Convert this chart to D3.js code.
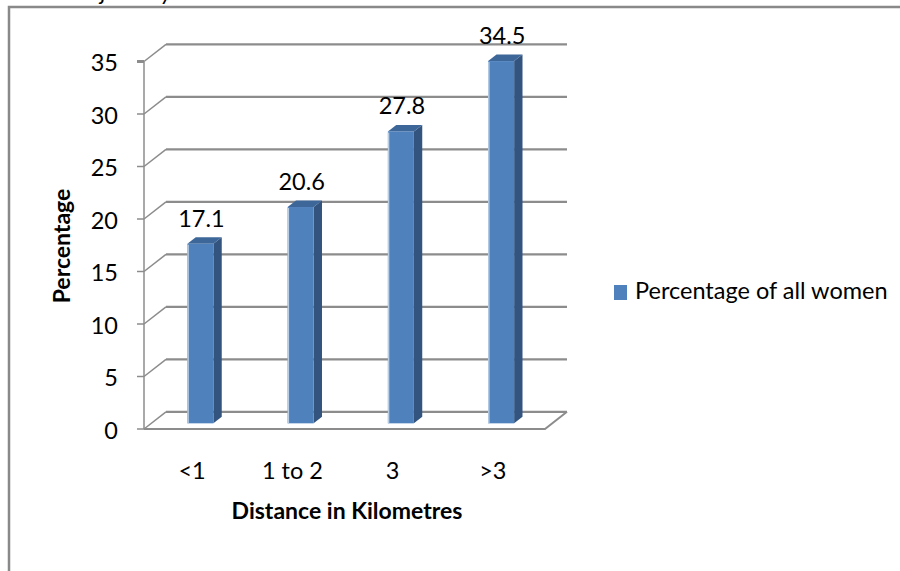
<!DOCTYPE html>
<html>
<head>
<meta charset="utf-8">
<script src="https://cdnjs.cloudflare.com/ajax/libs/d3/7.8.5/d3.min.js"></script>
<style>
  html, body { margin: 0; padding: 0; background: #fff; }
  text { font-family: Lato, "Open Sans", sans-serif; fill: #000; }
</style>
</head>
<body>
<div id="chart"></div>
<script>
const categories = ['<1', '1 to 2', '3', '>3'];
const values = [17.1, 20.6, 27.8, 34.5];
const yTicks = [0, 5, 10, 15, 20, 25, 30, 35];
const seriesName = 'Percentage of all women';
const xTitle = 'Distance in Kilometres';
const yTitle = 'Percentage';

const width = 900;
const height = 571;
// depth of the 3d box (back wall offset)
const depthX = 22;
const depthY = -17.2;
// bar sits between these depth fractions
const barFront = 0.33;
const barBack = 0.71;
const barW = 26;

const colors = {
    grid: '#8c8c8c',
    front: '#4F81BD',
    side: '#32547F',
    top: '#3E6799',
    edge: '#B9CDE5',
    frame: '#898989'
};

const svg = d3.select('#chart').append('svg')
    .attr('width', width)
    .attr('height', height);

// bit of the caption above, cut off by the crop
svg.append('text')
    .attr('x', 172)
    .attr('y', 0)
    .attr('text-anchor', 'end')
    .style('font-style', 'italic')
    .style('font-size', '23px')
    .text('each journey');

// frame
svg.append('path')
    .attr('d', 'M9,' + height + ' L9,7 L' + width + ',7')
    .attr('fill', 'none')
    .attr('stroke', colors.frame)
    .attr('stroke-width', 2.5);

const x = d3.scaleBand()
    .domain(categories)
    .range([144, 545]);

const y = d3.scaleLinear()
    .domain([0, 35])
    .range([429, 61.5]);

const x0 = x.range()[0];
const x1 = x.range()[1];

// gridlines: side wall diagonal + back wall line
const grid = svg.append('g');
yTicks.forEach(function (v) {
    grid.append('line')
        .attr('x1', x0).attr('y1', y(v))
        .attr('x2', x0 + depthX).attr('y2', y(v) + depthY)
        .attr('stroke', colors.grid).attr('stroke-width', 1.5);
    grid.append('line')
        .attr('x1', x0 + depthX).attr('y1', y(v) + depthY)
        .attr('x2', x1 + depthX).attr('y2', y(v) + depthY)
        .attr('stroke', colors.grid).attr('stroke-width', 2.2);
    // tick mark
    grid.append('line')
        .attr('x1', x0 - 7).attr('y1', y(v))
        .attr('x2', x0).attr('y2', y(v))
        .attr('stroke', colors.grid).attr('stroke-width', v === 35 ? 3 : 1.5);
});

// floor front edge + right edge
grid.append('path')
    .attr('d', 'M' + x0 + ',' + y(0) + ' L' + x1 + ',' + y(0) +
        ' L' + (x1 + depthX) + ',' + (y(0) + depthY))
    .attr('fill', 'none')
    .attr('stroke', colors.grid)
    .attr('stroke-width', 2);

// value axis line
grid.append('line')
    .attr('x1', x0).attr('y1', y(35))
    .attr('x2', x0).attr('y2', y(0))
    .attr('stroke', colors.grid).attr('stroke-width', 1.5);

// tick labels
svg.append('g').selectAll('text')
    .data(yTicks)
    .enter()
    .append('text')
    .attr('x', 118)
    .attr('y', function (d) { return y(d) + 9.5; })
    .attr('text-anchor', 'end')
    .style('font-size', '23.5px')
    .text(function (d) { return d; });

// bars
const bars = svg.append('g').selectAll('g')
    .data(values.map(function (v, i) { return {cat: categories[i], value: v}; }))
    .enter()
    .append('g');

const fx = function (d) { return x(d.cat) + x.bandwidth() / 2 - barW / 2 - 1 + depthX * barFront; };
const fy0 = y(0) + depthY * barFront;
const fyTop = function (d) { return y(d.value) + depthY * barFront; };
const dX = depthX * (barBack - barFront);
const dY = depthY * (barBack - barFront);

bars.append('path')
    .attr('fill', colors.side)
    .attr('d', function (d) {
        const r = fx(d) + barW;
        return 'M' + r + ',' + fyTop(d) + ' L' + (r + dX) + ',' + (fyTop(d) + dY) +
            ' L' + (r + dX) + ',' + (fy0 + dY) + ' L' + r + ',' + fy0 + 'Z';
    });

bars.append('path')
    .attr('fill', colors.top)
    .attr('d', function (d) {
        const l = fx(d);
        const t = fyTop(d);
        return 'M' + l + ',' + t + ' L' + (l + barW) + ',' + t +
            ' L' + (l + barW + dX) + ',' + (t + dY) + ' L' + (l + dX) + ',' + (t + dY) + 'Z';
    });

bars.append('rect')
    .attr('x', fx)
    .attr('y', fyTop)
    .attr('width', barW)
    .attr('height', function (d) { return fy0 - fyTop(d); })
    .attr('fill', colors.front);

bars.append('line')
    .attr('x1', function (d) { return fx(d) + 0.7; })
    .attr('x2', function (d) { return fx(d) + 0.7; })
    .attr('y1', function (d) { return fyTop(d) + 1; })
    .attr('y2', fy0)
    .attr('stroke', colors.edge)
    .attr('stroke-width', 1.5);

// value labels
bars.append('text')
    .attr('x', function (d) { return fx(d) + barW / 2 + 1; })
    .attr('y', function (d) { return fyTop(d) - 17; })
    .attr('text-anchor', 'middle')
    .style('font-size', '23.5px')
    .text(function (d) { return d.value; });

// category labels
svg.append('g').selectAll('text')
    .data(categories)
    .enter()
    .append('text')
    .attr('x', function (d) { return x(d) + x.bandwidth() / 2 - 2; })
    .attr('y', 479)
    .attr('text-anchor', 'middle')
    .style('font-size', '23.5px')
    .text(function (d) { return d; });

// axis titles
svg.append('text')
    .attr('x', 347)
    .attr('y', 519)
    .attr('text-anchor', 'middle')
    .style('font-size', '23px')
    .style('font-weight', 'bold')
    .text(xTitle);

svg.append('text')
    .attr('transform', 'translate(70,246) rotate(-90)')
    .attr('text-anchor', 'middle')
    .style('font-size', '23px')
    .style('font-weight', 'bold')
    .text(yTitle);

// legend
svg.append('rect')
    .attr('x', 614)
    .attr('y', 285)
    .attr('width', 13)
    .attr('height', 15)
    .attr('fill', colors.front);

svg.append('text')
    .attr('x', 635)
    .attr('y', 299)
    .style('font-size', '23.5px')
    .text(seriesName);
</script>
</body>
</html>
